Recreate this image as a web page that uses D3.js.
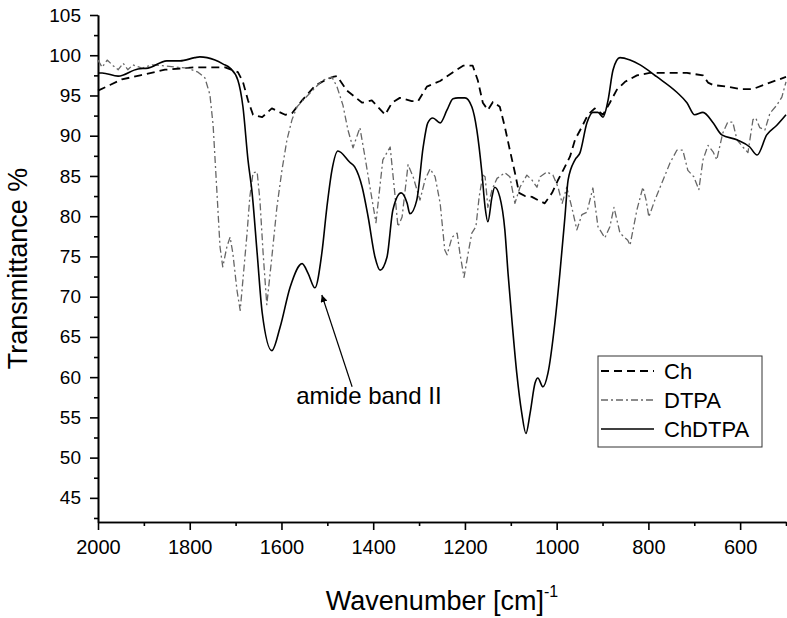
<!DOCTYPE html>
<html>
<head>
<meta charset="utf-8">
<script src="https://cdn.jsdelivr.net/npm/d3@7"></script>
<style>
  body { margin: 0; background: #fff; }
  svg { font-family: "Liberation Sans", Arial, sans-serif; }
  .axis path, .axis line { stroke: #000; stroke-width: 1.6; }
  .axis text { fill: #000; }
</style>
</head>
<body>
<div id="chart"></div>
<script>
// wavenumber [cm-1] / transmittance [%]
const chWn = [2000, 1974, 1948, 1908, 1854, 1789, 1723, 1695, 1684, 1673, 1662, 1642, 1621, 1592, 1577, 1555, 1527, 1505, 1488, 1479, 1457, 1424, 1403, 1390, 1374, 1359, 1342, 1316, 1302, 1283, 1254, 1226, 1204, 1183, 1172, 1161, 1150, 1139, 1124, 1113, 1102, 1091, 1082, 1069, 1054, 1041, 1026, 1010, 997, 986, 971, 960, 945, 932, 917, 899, 884, 869, 851, 825, 797, 760, 716, 681, 670, 659, 629, 600, 572, 535, 500];
const chT = [95.6, 96.3, 97.0, 97.5, 98.2, 98.5, 98.5, 97.9, 96.7, 94.4, 92.6, 92.3, 93.4, 92.6, 92.8, 94.4, 96.2, 96.9, 97.3, 97.4, 95.6, 94.1, 94.4, 93.6, 92.6, 94.1, 94.7, 94.3, 94.3, 96.1, 96.8, 97.9, 98.7, 98.7, 96.9, 94.1, 93.2, 94.2, 93.6, 91.1, 88.2, 85.4, 82.9, 82.5, 82.4, 82.0, 81.6, 82.9, 84.5, 85.7, 87.4, 89.5, 91.1, 92.6, 93.4, 92.6, 94.1, 95.7, 96.7, 97.5, 97.8, 97.8, 97.8, 97.5, 96.6, 96.3, 96.1, 95.8, 95.8, 96.6, 97.3];

const dtpaWn = [2000, 1991, 1980, 1967, 1956, 1945, 1935, 1924, 1904, 1882, 1860, 1826, 1804, 1782, 1767, 1756, 1749, 1741, 1734, 1728, 1719, 1712, 1706, 1697, 1690, 1684, 1675, 1669, 1662, 1653, 1647, 1640, 1632, 1621, 1610, 1599, 1588, 1577, 1566, 1553, 1531, 1510, 1490, 1479, 1466, 1455, 1444, 1429, 1418, 1407, 1394, 1379, 1363, 1353, 1346, 1337, 1324, 1313, 1298, 1287, 1276, 1265, 1254, 1244, 1239, 1228, 1217, 1211, 1202, 1193, 1185, 1176, 1169, 1161, 1156, 1150, 1141, 1130, 1113, 1102, 1091, 1080, 1065, 1054, 1043, 1036, 1021, 1008, 997, 988, 978, 967, 956, 945, 934, 921, 910, 895, 884, 875, 862, 845, 840, 825, 812, 805, 799, 786, 768, 753, 738, 725, 714, 701, 690, 681, 670, 659, 651, 638, 627, 616, 607, 594, 583, 572, 566, 557, 546, 535, 520, 509, 500];
const dtpaT = [99.4, 98.5, 99.4, 98.7, 98.2, 99.0, 98.2, 98.8, 98.4, 98.8, 98.7, 98.5, 98.4, 97.9, 97.2, 95.1, 91.3, 83.3, 76.2, 73.7, 76.2, 77.4, 75.4, 70.8, 68.3, 72.1, 77.9, 82.4, 85.4, 85.5, 82.0, 75.4, 69.0, 74.9, 81.1, 85.7, 89.5, 92.0, 93.6, 94.4, 95.7, 96.9, 97.3, 96.1, 93.8, 90.7, 88.5, 91.0, 87.4, 83.6, 79.2, 87.0, 88.6, 82.9, 78.7, 79.9, 86.4, 84.9, 82.0, 84.5, 85.9, 84.9, 81.6, 75.8, 75.2, 77.4, 77.9, 75.4, 72.4, 75.4, 77.9, 78.7, 82.4, 85.1, 84.9, 81.1, 83.3, 84.7, 85.4, 84.9, 81.6, 83.6, 85.1, 84.5, 83.6, 84.9, 85.5, 85.1, 83.6, 81.6, 83.6, 81.1, 78.3, 80.2, 80.5, 83.5, 78.7, 77.3, 78.7, 81.1, 77.9, 77.0, 76.4, 80.8, 83.6, 82.0, 79.9, 82.0, 84.5, 86.6, 88.2, 88.2, 85.7, 84.9, 83.3, 87.0, 88.8, 88.0, 87.0, 90.3, 91.7, 91.7, 89.5, 88.6, 87.9, 92.0, 92.2, 91.0, 90.7, 92.8, 93.8, 94.8, 96.7];

const chdtpaWn = [2000, 1991, 1956, 1913, 1891, 1850, 1821, 1789, 1778, 1745, 1727, 1712, 1695, 1684, 1673, 1664, 1653, 1642, 1621, 1603, 1581, 1555, 1542, 1527, 1512, 1501, 1490, 1477, 1451, 1440, 1424, 1411, 1396, 1385, 1370, 1357, 1339, 1326, 1320, 1305, 1291, 1281, 1270, 1254, 1239, 1226, 1215, 1200, 1185, 1174, 1163, 1156, 1150, 1141, 1135, 1124, 1113, 1106, 1097, 1087, 1076, 1067, 1058, 1047, 1041, 1030, 1019, 1004, 993, 982, 975, 960, 949, 934, 921, 910, 899, 888, 877, 862, 840, 818, 781, 738, 716, 699, 681, 659, 640, 607, 579, 563, 542, 520, 500];
const chdtpaT = [97.8, 97.8, 97.4, 98.3, 98.4, 99.3, 99.3, 99.7, 99.8, 99.4, 98.9, 98.4, 96.9, 93.6, 87.0, 82.9, 75.4, 68.0, 63.3, 66.2, 71.2, 74.1, 72.9, 71.1, 75.4, 81.1, 85.7, 88.1, 86.7, 86.1, 83.6, 79.9, 74.9, 73.3, 74.9, 80.8, 82.9, 81.6, 80.3, 82.0, 88.6, 91.6, 92.2, 91.6, 93.2, 94.6, 94.7, 94.7, 93.6, 90.7, 85.4, 81.1, 79.3, 82.4, 83.6, 82.4, 78.3, 72.9, 66.7, 60.5, 55.5, 53.0, 55.5, 59.3, 59.9, 58.8, 60.5, 66.7, 72.9, 79.9, 84.5, 87.0, 87.9, 91.6, 92.9, 92.9, 92.3, 94.4, 98.2, 99.7, 99.4, 98.8, 97.3, 95.4, 94.1, 92.6, 92.9, 91.6, 90.1, 89.5, 88.6, 87.6, 90.1, 91.3, 92.6];

const yTicks = [45, 50, 55, 60, 65, 70, 75, 80, 85, 90, 95, 100, 105];
const xTicks = [2000, 1800, 1600, 1400, 1200, 1000, 800, 600];
const seriesNames = ['Ch', 'DTPA', 'ChDTPA'];

const width = 787;
const height = 618;
const margin = { top: 15, right: 1, bottom: 96, left: 98 };

const svg = d3
  .select('#chart')
  .append('svg')
  .attr('width', width)
  .attr('height', height);

const x = d3
  .scaleLinear()
  .domain([2000, 500])
  .range([margin.left, width - margin.right]);

const y = d3
  .scaleLinear()
  .domain([42, 105])
  .range([height - margin.bottom, margin.top]);

// minor ticks first, majors drawn over them
const xMinor = d3.range(1900, 400, -200);
const yMinor = d3.range(42.5, 105, 5);

svg
  .append('g')
  .attr('class', 'axis')
  .attr('transform', `translate(0,${y(42)})`)
  .call(d3.axisBottom(x).tickValues(xMinor).tickSize(4).tickFormat('').tickSizeOuter(0));

svg
  .append('g')
  .attr('class', 'axis')
  .attr('transform', `translate(${x(2000)},0)`)
  .call(d3.axisLeft(y).tickValues(yMinor).tickSize(4).tickFormat('').tickSizeOuter(0));

svg
  .append('g')
  .attr('class', 'x axis')
  .attr('transform', `translate(0,${y(42)})`)
  .call(d3.axisBottom(x).tickValues(xTicks).tickFormat(d3.format('d')).tickSize(8).tickPadding(10).tickSizeOuter(0))
  .call(g => g.selectAll('text').attr('font-size', 20));

svg
  .append('g')
  .attr('class', 'y axis')
  .attr('transform', `translate(${x(2000)},0)`)
  .call(d3.axisLeft(y).tickValues(yTicks).tickSize(8).tickPadding(9).tickSizeOuter(0))
  .call(g => g.selectAll('text').attr('font-size', 19));

// axis titles
svg
  .append('text')
  .attr('transform', `translate(27,${(y(42) + y(105)) / 2}) rotate(-90)`)
  .attr('text-anchor', 'middle')
  .attr('font-size', 27)
  .text('Transmittance %');

const xt = svg
  .append('text')
  .attr('x', (x(2000) + x(500)) / 2)
  .attr('y', 610)
  .attr('text-anchor', 'middle')
  .attr('font-size', 27);
xt.append('tspan').text('Wavenumber [cm]');
xt.append('tspan').attr('dy', -13).attr('font-size', 16).text('-1');

// spectra
const styles = [
  { wn: chWn, t: chT, stroke: '#000', width: 1.8, dash: '8,5', curve: d3.curveLinear },
  { wn: dtpaWn, t: dtpaT, stroke: '#666', width: 1.3, dash: '7,3,2,3', curve: d3.curveLinear },
  { wn: chdtpaWn, t: chdtpaT, stroke: '#000', width: 1.6, dash: null, curve: d3.curveMonotoneX },
];

styles.forEach(s => {
  const pts = s.wn.map((w, i) => [w, s.t[i]]);
  const line = d3
    .line()
    .x(d => x(d[0]))
    .y(d => y(d[1]))
    .curve(s.curve);
  svg
    .append('path')
    .attr('d', line(pts))
    .attr('fill', 'none')
    .attr('stroke', s.stroke)
    .attr('stroke-width', s.width)
    .attr('stroke-dasharray', s.dash)
    .attr('stroke-linejoin', 'round');
});

// annotation
svg
  .append('defs')
  .append('marker')
  .attr('id', 'arrow')
  .attr('viewBox', '0 0 10 10')
  .attr('refX', 10)
  .attr('refY', 5)
  .attr('markerWidth', 7)
  .attr('markerHeight', 7)
  .attr('markerUnits', 'userSpaceOnUse')
  .attr('orient', 'auto')
  .append('path')
  .attr('d', 'M0,0 L10,5 L0,10 z')
  .attr('fill', '#000');

svg
  .append('line')
  .attr('x1', x(1446))
  .attr('y1', y(58.8))
  .attr('x2', x(1512))
  .attr('y2', y(70.2))
  .attr('stroke', '#000')
  .attr('stroke-width', 1.2)
  .attr('marker-end', 'url(#arrow)');

svg
  .append('text')
  .attr('x', x(1568))
  .attr('y', y(56.7))
  .attr('font-size', 24)
  .text('amide band II');

// legend
const legend = svg.append('g').attr('transform', 'translate(598,356)');
legend
  .append('rect')
  .attr('width', 164)
  .attr('height', 91)
  .attr('fill', '#fff')
  .attr('stroke', '#333')
  .attr('stroke-width', 1);

seriesNames.forEach((name, i) => {
  const s = styles[i];
  const ly = 15 + i * 29;
  legend
    .append('line')
    .attr('x1', 3)
    .attr('x2', 56)
    .attr('y1', ly)
    .attr('y2', ly)
    .attr('stroke', s.stroke)
    .attr('stroke-width', s.width)
    .attr('stroke-dasharray', s.dash);
  legend
    .append('text')
    .attr('x', 66)
    .attr('y', ly + 8)
    .attr('font-size', 22)
    .text(name);
});
</script>
</body>
</html>
